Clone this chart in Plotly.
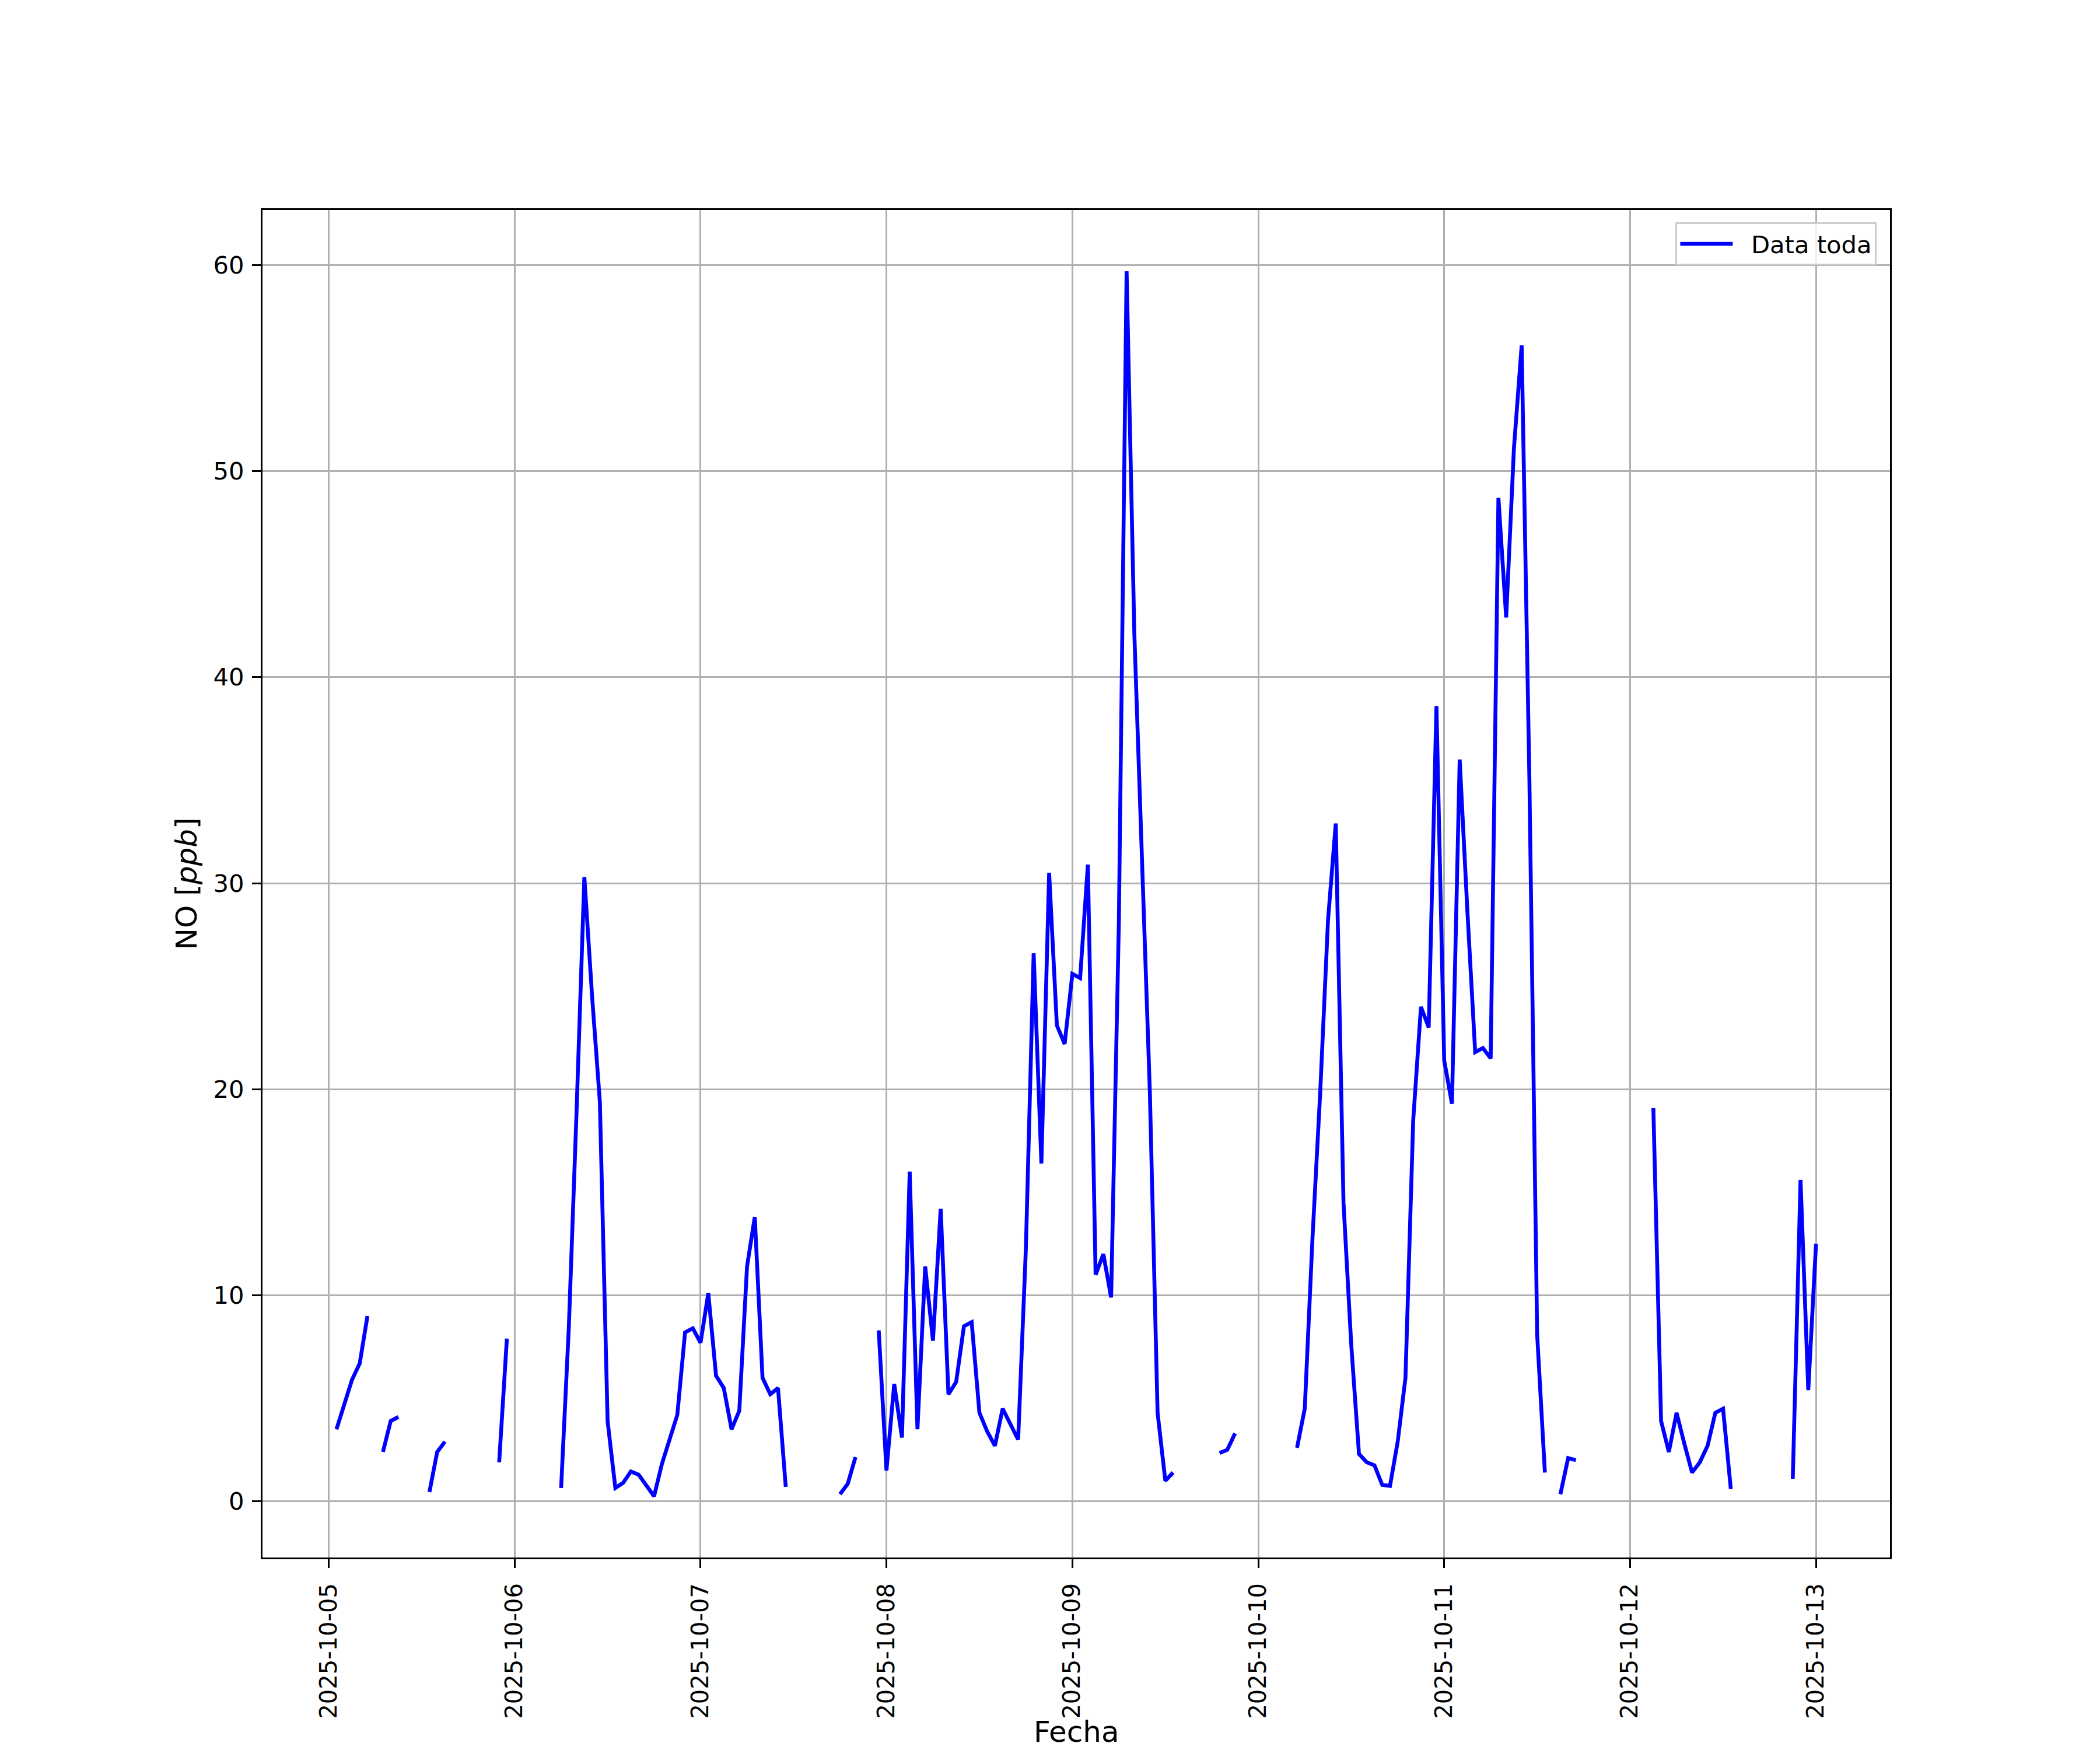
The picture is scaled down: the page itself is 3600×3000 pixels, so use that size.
import pandas as pd
import plotly.graph_objects as go

# Hourly NO concentration [ppb], one list per day (hours 01:00 .. 24:00)
day1 = [3.5, 4.7, 5.9, 6.7, 9.0, None, 2.4, 3.9, 4.1, None, None, None,
        0.45, 2.4, 2.9, None, None, None, None, None, None, 1.9, 7.9, None]
day2 = [None, None, None, None, None, 0.65, 8.5, 19.0, 30.3, 24.5, 19.4, 3.9,
        0.65, 0.9, 1.45, 1.3, 0.75, 0.25, 1.8, 3.0, 4.2, 8.2, 8.4, 7.7]
day3 = [10.1, 6.1, 5.5, 3.5, 4.4, 11.4, 13.8, 6.0, 5.2, 5.5, 0.7, None,
        None, None, None, None, None, 0.35, 0.85, 2.15, None, None, 8.3, 1.5]
day4 = [5.7, 3.1, 16.0, 3.5, 11.4, 7.8, 14.2, 5.2, 5.8, 8.5, 8.7, 4.3,
        3.4, 2.7, 4.5, 3.7, 3.0, 12.3, 26.6, 16.4, 30.5, 23.1, 22.2, 25.6]
day5 = [25.4, 30.9, 11.0, 12.0, 9.9, 28.1, 59.7, 42.1, 31.1, 19.9, 4.3, 1.0,
        1.4, None, None, None, None, None, 2.35, 2.5, 3.3, None, None, None]
day6 = [None, None, None, None, 2.6, 4.5, 12.8, 19.9, 28.2, 32.9, 14.5, 7.6,
        2.3, 1.9, 1.75, 0.8, 0.75, 2.9, 6.0, 18.5, 24.0, 23.0, 38.6, 21.4]
day7 = [19.3, 36.0, 28.6, 21.8, 22.0, 21.5, 48.7, 42.9, 51.1, 56.1, 35.0, 8.1,
        1.4, None, 0.35, 2.1, 2.0, None, None, None, None, None, None, None]
day8 = [None, None, 19.1, 3.9, 2.4, 4.3, 2.8, 1.4, 1.9, 2.7, 4.3, 4.5,
        0.6, None, None, None, None, None, None, None, 1.1, 15.6, 5.4, 12.5]

no_ppb = day1 + day2 + day3 + day4 + day5 + day6 + day7 + day8
fechas = pd.date_range("2025-10-05 01:00", periods=len(no_ppb), freq="h")

series_name = "Data toda"
x_title = "Fecha"
y_title = "NO [<i>ppb</i>]"

# matplotlib-like 5% auto margins
valid = [(t, v) for t, v in zip(fechas, no_ppb) if v is not None]
t0, t1 = valid[0][0], valid[-1][0]
span = t1 - t0
x_range = [t0 - 0.05 * span, t1 + 0.05 * span]
vals = [v for _, v in valid]
vmin, vmax = min(vals), max(vals)
vspan = vmax - vmin
y_range = [vmin - 0.05 * vspan, vmax + 0.05 * vspan]

FONT = "DejaVu Sans"
TICK_PX = 41.7
LABEL_PX = 50
LW = 3.3

fig = go.Figure()
fig.add_trace(go.Scatter(
    x=fechas, y=no_ppb, mode="lines", name="\u00a0\u00a0" + series_name,
    line=dict(color="#0000ff", width=6.6), connectgaps=False,
    showlegend=True,
))

fig.update_layout(
    width=3600, height=3000,
    margin=dict(l=442, r=368, t=352, b=338, autoexpand=False),
    paper_bgcolor="white", plot_bgcolor="white",
    font=dict(family=FONT, size=TICK_PX, color="black"),
    legend=dict(
        x=0.9918, xanchor="right", y=0.9909, yanchor="top",
        bgcolor="rgba(255,255,255,0.8)", bordercolor="#cccccc", borderwidth=3.3,
        font=dict(family=FONT, size=TICK_PX, color="black"),
        itemwidth=90,
    ),
    showlegend=True,
)

# x-axis title placed as a paper annotation (below rotated tick labels)
fig.add_annotation(
    text=x_title, xref="paper", yref="paper", x=0.5, y=-0.1295,
    xanchor="center", yanchor="middle", showarrow=False,
    font=dict(family=FONT, size=LABEL_PX, color="black"),
)

fig.update_xaxes(
    type="date", range=x_range,
    tick0="2025-10-05", dtick=86400000, tickformat="%Y-%m-%d",
    tickangle=-90,
    ticks="outside", ticklen=15, tickwidth=LW, tickcolor="black",
    ticklabelstandoff=10,
    showline=True, linecolor="black", linewidth=LW, mirror=True,
    showgrid=True, gridcolor="#b0b0b0", gridwidth=LW,
    zeroline=False, automargin=False,
    tickfont=dict(family=FONT, size=40, color="black"),
)
fig.update_yaxes(
    range=y_range, tick0=0, dtick=10,
    ticks="outside", ticklen=15, tickwidth=LW, tickcolor="black",
    ticklabelstandoff=5,
    showline=True, linecolor="black", linewidth=LW, mirror=True,
    showgrid=True, gridcolor="#b0b0b0", gridwidth=LW,
    zeroline=False, automargin=False,
    tickfont=dict(family=FONT, size=TICK_PX, color="black"),
    title=dict(text=y_title, font=dict(family=FONT, size=LABEL_PX, color="black"), standoff=12),
)

fig.write_html("out.html")
